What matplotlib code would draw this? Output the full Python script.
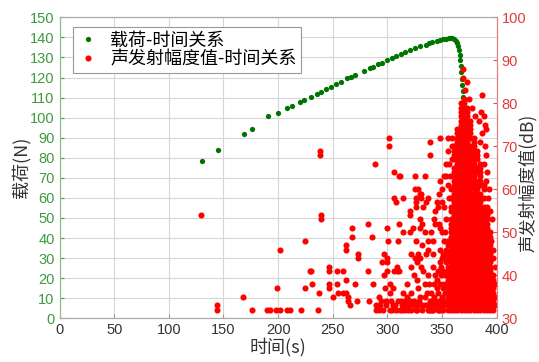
import numpy as np
import matplotlib
matplotlib.use('Agg')
import matplotlib.pyplot as plt

# load - time (green, left axis)
load_t = [130, 145, 169, 176, 191, 200, 208, 213, 220, 224, 230, 236, 239, 244, 248,
          253, 258, 263, 267, 270, 279, 284, 287, 291, 295, 300, 304, 308, 312, 316,
          321, 325, 330, 335, 338, 341, 345, 348, 351, 354, 356, 358, 359.5, 361,
          362.5, 363.5, 364.5, 365.3, 366, 366.6, 367.1, 367.6, 368, 368.4, 368.8,
          369.2, 369.5, 369.8, 370.1, 370.4, 370.6, 370.8, 371]
load_n = [78.6, 84, 92, 94.5, 101, 102.5, 104.6, 105.8, 107.8, 108.8, 110.3, 112, 113,
          114.3, 115.3, 116.8, 118, 119.6, 120.5, 121.3, 123.3, 124.5, 125.4, 126.5,
          127.4, 128.7, 129.7, 130.8, 131.7, 132.6, 133.6, 134.5, 135.5, 136.4, 137,
          137.5, 138.2, 138.7, 139.1, 139.4, 139.6, 139.7, 139.5, 139, 138.2, 137,
          135.5, 133.5, 131, 128.5, 125.5, 122.5, 119.5, 116.5, 113.5, 110.5, 107.5,
          104.5, 101.5, 98.5, 95, 92, 89]

# AE amplitude - time (red, right axis), scattered hits (t, dB)
ae_sparse = [
    (129.5, 54), (144.5, 33), (144.5, 32), (168, 35), (176, 32), (190, 32), (193, 32),
    (198, 32), (199, 37), (201.5, 46), (201.5, 32), (208, 32), (211, 32), (221, 32),
    (224.5, 48), (224.5, 37), (229, 41), (230.5, 41), (231, 38), (236.5, 32), (237.5, 36),
    (238.5, 69), (238.5, 68), (239.5, 54), (239.5, 53), (247, 42), (247, 41), (247, 38),
    (247, 37), (250.5, 35), (253.5, 41), (253.5, 38), (255, 36), (259, 41), (259.5, 36),
    (262, 47), (262, 46), (262, 39), (262.5, 36), (264, 35), (264, 34), (266, 33),
    (268, 51), (268, 49), (270, 38), (272.5, 34), (273, 45), (273, 44), (282.5, 52),
    (282, 41), (283.5, 34), (285.5, 49), (287, 38), (288.5, 66), (290, 33), (292, 32),
    (292.5, 35), (294, 34), (295.5, 43), (296.5, 45), (297, 40), (298, 37), (298.5, 33),
    (299.5, 51), (299.5, 44), (300, 43), (300, 41), (300.5, 48), (301.5, 72), (301.5, 70),
    (302, 38), (302, 36), (303, 34), (304, 32), (305, 37), (306, 64), (306, 58), (306, 41),
    (307, 33), (308, 57), (308.5, 41), (309, 42), (309.5, 48), (310.5, 63), (311, 52),
    (311, 41), (311.5, 32), (312, 34), (313, 33), (314, 58), (314.5, 50), (316, 32),
    (318, 35), (320.5, 55), (320.5, 54), (320.5, 50), (322, 42), (322, 32), (323.5, 51),
    (324, 40), (325, 44), (326, 58), (326, 57), (326.5, 56), (327, 43), (327, 39),
    (328, 33), (330, 53), (330, 51), (331, 59), (331, 58), (331, 42), (332, 52), (333, 56),
    (333, 41), (334, 50), (334, 35), (335, 57), (335, 45), (336, 33), (337, 58), (337, 48),
    (337, 46), (337, 40), (338, 38), (340, 32), (342, 48), (342, 45), (343, 53), (344, 52),
    (345, 57), (345, 39), (346, 56), (346, 36), (347, 52), (348, 46), (348.5, 51),
    (349, 42), (349, 40), (350, 50), (351, 45), (352, 34), (353, 44), (351, 37), (352, 38),
    (344, 33), (347, 32), (340, 36),
    (341, 32), (341, 34), (343, 35), (345, 33), (345, 37), (347, 34), (348, 38), (349, 32),
    (350, 35), (351, 41), (352, 33), (353, 36), (353, 40), (354, 43), (354, 46), (352, 48),
    (350, 44), (348, 43), (346, 41), (344, 40), (342, 42), (343, 38), (339, 34), (338, 32),
    (336, 36), (334, 38), (332, 33), (330, 35), (328, 37), (326, 32), (324, 34), (322, 36),
    (320, 33), (318, 38), (316, 34), (314, 36), (322, 45), (326, 48), (328, 45), (330, 44),
    (332, 47), (340, 50), (344, 55), (347, 59), (350, 57), (352, 63), (354, 66),
    (290, 32), (293, 33), (296, 32), (299, 34), (302, 32), (305, 33), (308, 32), (310, 34),
    (313, 32), (316, 33), (319, 32), (321, 34), (324, 33), (327, 32), (329, 34), (332, 32),
    (334, 33), (337, 32), (339, 33), (342, 32), (344, 34), (346, 32), (349, 33), (351, 32),
    (339, 71), (339, 68), (348, 72), (350, 60), (348, 62), (325, 60), (328, 60), (330, 59),
    (311.5, 63), (325.3, 63), (334.4, 63),
    (369, 88), (369, 86), (373, 85), (386.5, 82), (371, 83), (375, 81), (377, 79),
    (380, 77), (384, 76), (386, 78), (388, 77), (389, 75), (390, 74), (387, 73), (385, 71),
    (389, 70), (390, 68), (388, 66), (391, 64), (390, 62), (393, 60), (392, 58), (394, 55),
    (396, 53), (395, 48), (397, 46), (397, 44), (398, 42), (398, 38), (398, 35), (398, 33),
    (358, 60), (357, 63), (356, 66), (355, 69), (355.7, 72), (358.8, 72), (359.5, 70),
    (358.8, 67), (353, 50), (354, 53), (352, 56), (356, 58), (355, 61), (354, 63),
]

# dense burst near failure: amplitudes hit in each time column
ae_col_355 = [32, 33, 34, 35, 36, 37, 38, 39, 40, 41, 42, 44, 45, 47, 48]
ae_col_358 = [32, 33, 34, 35, 36, 37, 38, 39, 40, 41, 42, 43, 44, 45, 46, 47, 48, 49, 50,
              51, 52, 53, 55, 56, 58]
ae_col_361 = [32, 33, 34, 35, 36, 37, 38, 39, 40, 41, 42, 43, 44, 45, 46, 47, 48, 49, 50,
              51, 52, 53, 54, 55, 56, 57, 58, 59, 60, 61, 62, 63, 64, 65, 67, 68, 69, 70]
ae_col_364 = [32, 33, 34, 35, 36, 37, 38, 39, 40, 41, 42, 43, 44, 45, 46, 47, 48, 49, 50,
              51, 52, 53, 54, 55, 56, 57, 58, 59, 60, 61, 62, 63, 64, 65, 66, 67, 68, 69,
              70, 71, 72, 73, 74]
ae_col_367 = [32, 33, 34, 35, 36, 37, 38, 39, 40, 41, 42, 43, 44, 45, 46, 47, 48, 49, 50,
              51, 52, 53, 54, 55, 56, 57, 58, 59, 60, 61, 62, 63, 64, 65, 66, 67, 68, 69,
              70, 71, 72, 73, 74, 75, 76, 77, 78, 79, 80]
ae_col_370 = [32, 33, 34, 35, 36, 37, 38, 39, 40, 41, 42, 43, 44, 45, 46, 47, 48, 49, 50,
              51, 52, 53, 54, 55, 56, 57, 58, 59, 60, 61, 62, 63, 64, 65, 66, 67, 68, 69,
              70, 71, 72, 73, 74, 75, 76, 77, 78, 79, 80, 81]
ae_col_373 = [32, 33, 34, 35, 36, 37, 38, 39, 40, 41, 42, 43, 44, 45, 46, 47, 48, 49, 50,
              51, 52, 53, 54, 55, 56, 57, 58, 59, 60, 61, 62, 63, 64, 65, 66, 67, 68, 69,
              70, 71, 72, 73, 74, 75, 76, 77, 78, 79]
ae_col_376 = [32, 33, 34, 35, 36, 37, 38, 39, 40, 41, 42, 43, 44, 45, 46, 47, 48, 49, 50,
              51, 52, 53, 54, 55, 56, 57, 58, 59, 60, 61, 62, 63, 64, 65, 66, 67, 68, 69,
              70, 72, 73, 74, 75, 76]
ae_col_379 = [32, 33, 34, 35, 36, 37, 38, 39, 40, 41, 42, 43, 44, 45, 46, 47, 48, 49, 50,
              51, 52, 53, 54, 55, 56, 57, 58, 59, 60, 61, 62, 63, 64, 65, 66, 67, 68, 69,
              70, 71, 72]
ae_col_382 = [32, 33, 34, 35, 36, 37, 38, 39, 40, 41, 42, 43, 44, 45, 46, 47, 48, 49, 50,
              51, 52, 53, 54, 55, 56, 57, 58, 59, 60, 61, 62, 64, 65, 67, 68, 69]
ae_col_385 = [32, 33, 34, 35, 36, 37, 38, 39, 40, 41, 42, 43, 44, 45, 46, 47, 48, 49, 50,
              51, 52, 53, 54, 55, 56, 57, 58, 59, 61, 62, 63, 64, 65, 66]
ae_col_388 = [32, 33, 34, 35, 36, 37, 38, 39, 40, 41, 42, 43, 44, 45, 46, 47, 48, 49, 50,
              51, 52, 53, 54, 55, 56, 58, 60, 61]
ae_col_391 = [32, 33, 34, 35, 36, 37, 38, 39, 40, 41, 42, 43, 44, 45, 46, 47, 48, 49, 50,
              51, 52, 53, 54, 55, 56]
ae_col_394 = [32, 33, 34, 35, 36, 37, 38, 39, 40, 41, 42, 43, 44, 45, 46, 47, 48, 49, 50]
ae_col_397 = [32, 33, 34, 35, 36, 37, 38, 39, 40]

dense_cols = [(355, ae_col_355), (358, ae_col_358), (361, ae_col_361), (364, ae_col_364),
              (367, ae_col_367), (370, ae_col_370), (373, ae_col_373), (376, ae_col_376),
              (379, ae_col_379), (382, ae_col_382), (385, ae_col_385), (388, ae_col_388),
              (391, ae_col_391), (394, ae_col_394), (397, ae_col_397)]

ae_t = [p[0] for p in ae_sparse]
ae_db = [p[1] for p in ae_sparse]
for t, col in dense_cols:
    ae_t += [t] * len(col)
    ae_db += col

cjk = ['Noto Sans CJK SC', 'DejaVu Sans']
green = '#007400'
red = '#ff0000'

fig = plt.figure(figsize=(5.39, 3.62), dpi=100)
ax1 = fig.add_axes([0.1104, 0.1207, 0.8111, 0.8315])
ax2 = ax1.twinx()

l1, = ax1.plot(load_t, load_n, 'o', color=green, ms=3.8, mew=0, label='载荷-时间关系')
l2, = ax2.plot(ae_t, ae_db, 'o', color=red, ms=4.4, mew=0, label='声发射幅度值-时间关系')

ax1.set_xlim(0, 400)
ax1.set_ylim(0, 150)
ax2.set_ylim(30, 100)
ax1.set_xticks(np.arange(0, 401, 50))
ax1.set_yticks(np.arange(0, 151, 10))
ax2.set_yticks(np.arange(30, 101, 10))

ax1.set_axisbelow(True)
ax1.grid(True, color='#d6d6d6', lw=0.8)

for lab in ax1.get_xticklabels() + ax1.get_yticklabels() + ax2.get_yticklabels():
    lab.set_family('Liberation Sans')
    lab.set_fontsize(10.5)
ax1.tick_params(axis='x', direction='in', length=3, colors='#999999', labelcolor='#333333')
ax1.tick_params(axis='y', direction='in', length=3, colors='#4a9e4a', labelcolor='#3d9a3d')
ax2.tick_params(axis='y', direction='in', length=3, colors='#e05050', labelcolor='#e03c3c')

for a in (ax1, ax2):
    a.spines['top'].set_color('#aaaaaa')
    a.spines['bottom'].set_color('#aaaaaa')
    a.spines['left'].set_color('#8cbc8c')
    a.spines['right'].set_color('#e08080')

ax1.set_xlabel('时间(s)', family=cjk, fontsize=13, color='#333333')
ax1.set_ylabel('载荷(N)', family=cjk, fontsize=13, color='#333333')
ax2.set_ylabel('声发射幅度值(dB)', family=cjk, fontsize=12.5, color='#333333')
ax1.xaxis.set_label_coords(0.5, -0.065)
ax1.yaxis.set_label_coords(-0.066, 0.5)
ax2.yaxis.set_label_coords(1.05, 0.45)

leg = ax2.legend(handles=[l1, l2], loc='upper left', bbox_to_anchor=(0.031, 0.968),
                 borderaxespad=0, prop={'family': cjk, 'size': 13}, frameon=True,
                 fancybox=False, edgecolor='#999999', framealpha=1, handlelength=1.2,
                 handletextpad=0.6, borderpad=0.25, labelspacing=0.05, markerscale=1.0)
leg.get_frame().set_linewidth(0.8)

fig.savefig('out.png', dpi=100)
